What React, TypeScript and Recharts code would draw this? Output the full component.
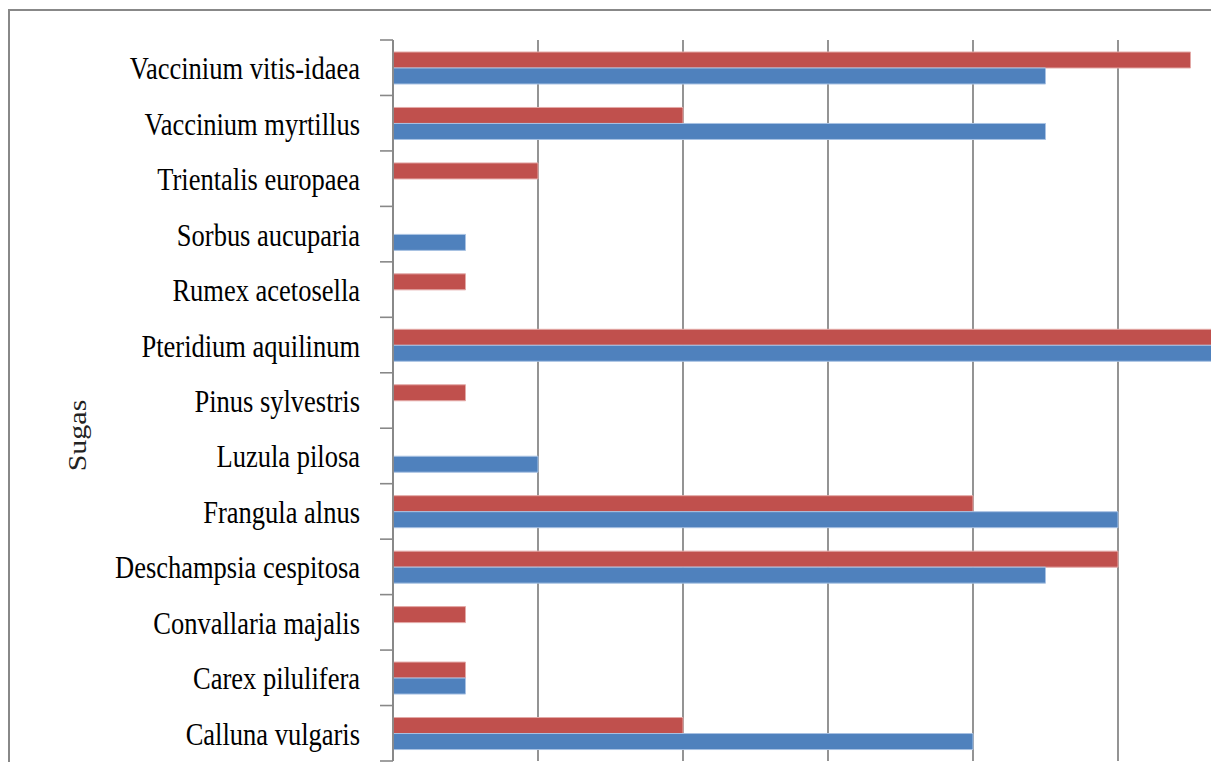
import { BarChart, Bar, XAxis, YAxis, CartesianGrid } from 'recharts'

// categories, top to bottom as they appear on the chart
const species = [
  'Vaccinium vitis-idaea',
  'Vaccinium myrtillus',
  'Trientalis europaea',
  'Sorbus aucuparia',
  'Rumex acetosella',
  'Pteridium aquilinum',
  'Pinus sylvestris',
  'Luzula pilosa',
  'Frangula alnus',
  'Deschampsia cespitosa',
  'Convallaria majalis',
  'Carex pilulifera',
  'Calluna vulgaris',
]

// red series (drawn above), blue series (drawn below)
const series2 = [11, 4, 2, 0, 1, 12, 1, 0, 8, 10, 1, 1, 4]
const series1 = [9, 9, 0, 1, 0, 12, 0, 2, 10, 9, 0, 1, 8]

const xTicks = [0, 2, 4, 6, 8, 10, 12]
const X_MAX = 12

const data = species.map((name, i) => ({ name, s2: series2[i], s1: series1[i] }))

const GRID = '#888888'
const FONT = '"Liberation Serif", "Times New Roman", serif'
const PLOT_H = 721

const SpeciesTick = (props: any) => {
  const { x, y, payload, index } = props
  const half = (payload && payload.offset) || PLOT_H / species.length / 2
  return (
    <g>
      <line x1={x - 13} x2={x} y1={y - half} y2={y - half} stroke={GRID} strokeWidth={1.6} />
      {index === species.length - 1 && (
        <line x1={x - 13} x2={x} y1={y + half} y2={y + half} stroke={GRID} strokeWidth={1.6} />
      )}
      <g transform={`translate(${x - 33},${y + 11.5}) scale(1,1.17)`}>
        <text x={0} y={0} textAnchor="end" fontFamily={FONT} fontSize={26.5} fill="#000">
          {payload.value}
        </text>
      </g>
    </g>
  )
}

const SugasLabel = (props: any) => {
  const vb = props.viewBox || { x: 0, y: 40, height: PLOT_H }
  const cy = vb.y + vb.height / 2 + 35
  return (
    <g transform={`translate(86,${cy}) scale(1,1.2) rotate(-90)`}>
      <text x={0} y={0} textAnchor="middle" fontFamily={FONT} fontSize={25} fill="#222">
        Sugas
      </text>
    </g>
  )
}

// vertical gridlines at the x ticks, from the plot box
const gridX = (args: any) => {
  const { xAxis, offset } = args || {}
  if (xAxis && typeof xAxis.scale === 'function') return xTicks.map((t) => xAxis.scale(t))
  return xTicks.map((t) => offset.left + (t / X_MAX) * offset.width)
}

export default function App() {
  return (
    <div
      style={{
        position: 'fixed',
        left: 0,
        top: 0,
        width: 1211,
        height: 762,
        overflow: 'hidden',
        background: '#fff',
      }}
    >
      <div
        style={{
          position: 'absolute',
          left: 8,
          top: 9,
          width: 1400,
          height: 900,
          borderTop: `2px solid ${GRID}`,
          borderLeft: `2px solid ${GRID}`,
        }}
      />
      <div style={{ position: 'absolute', left: 0, top: 0 }}>
        <BarChart
          width={1263}
          height={762}
          data={data}
          layout="vertical"
          margin={{ top: 40, right: 0, bottom: 1, left: 0 }}
          barGap={0}
          barSize={16}
        >
          <CartesianGrid
            horizontal={false}
            stroke={GRID}
            strokeWidth={1.8}
            verticalCoordinatesGenerator={gridX}
          />
          <XAxis
            type="number"
            domain={[0, X_MAX]}
            ticks={xTicks}
            tick={false}
            tickLine={false}
            axisLine={false}
            height={0}
          />
          <YAxis
            type="category"
            dataKey="name"
            width={393}
            interval={0}
            tickSize={0}
            tickMargin={0}
            tickLine={false}
            axisLine={{ stroke: GRID, strokeWidth: 1.8 }}
            tick={<SpeciesTick />}
            label={<SugasLabel />}
          />
          <Bar dataKey="s2" name="Series2" fill="#C0504D" stroke="#e3a9a7" strokeWidth={1} isAnimationActive={false} />
          <Bar dataKey="s1" name="Series1" fill="#4F81BD" stroke="#a9c2e3" strokeWidth={1} isAnimationActive={false} />
        </BarChart>
      </div>
    </div>
  )
}
